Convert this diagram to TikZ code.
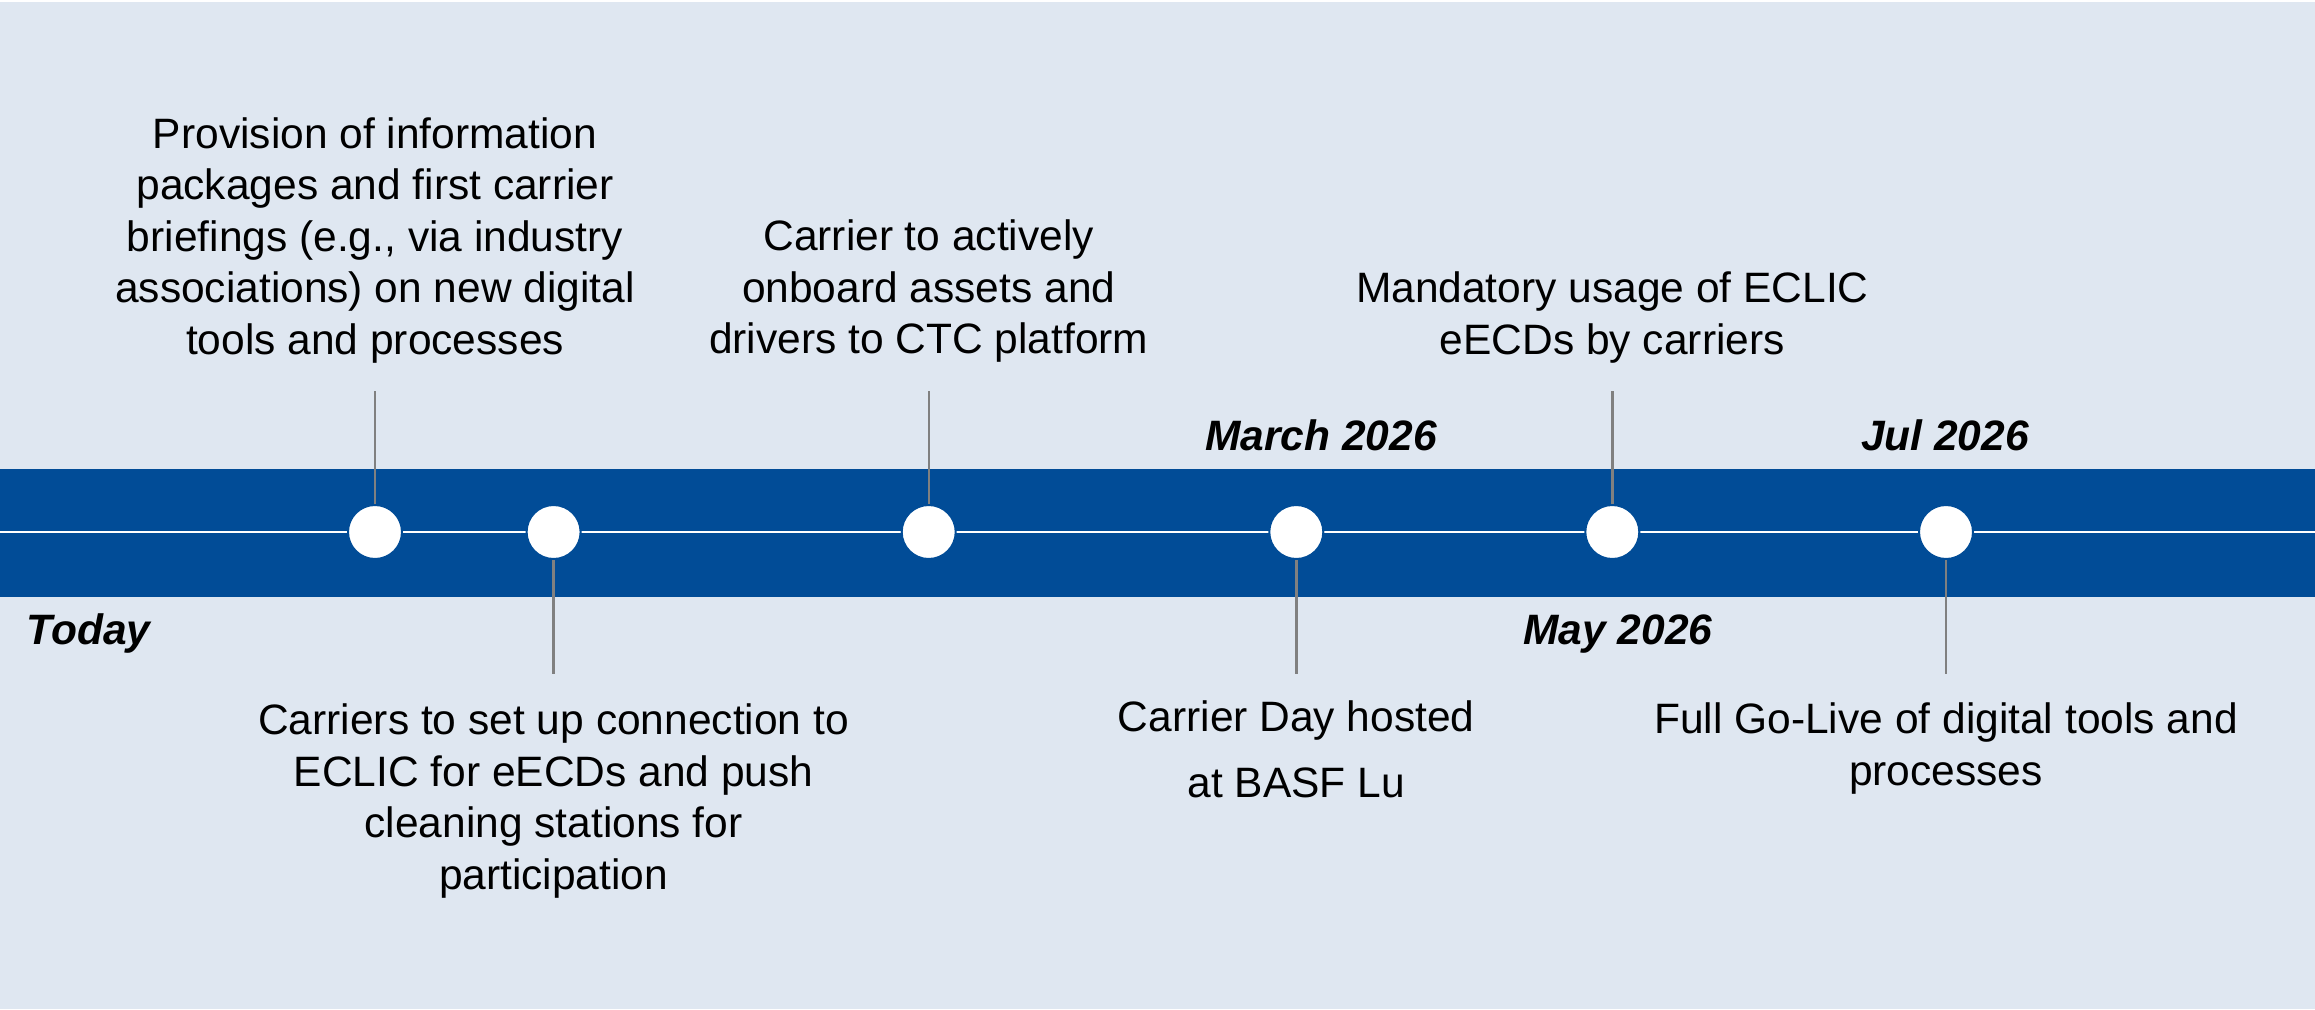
\documentclass[tikz,border=0pt]{standalone}
\usepackage{fontspec}
\setmainfont{Liberation Sans}
\definecolor{bgc}{RGB}{223,231,241}
\definecolor{band}{RGB}{1,76,151}
\definecolor{conn}{RGB}{128,128,128}
\begin{document}
\begin{tikzpicture}[x=1pt,y=-1pt,
  dot/.style={circle,fill=white,draw=band,line width=2pt,minimum size=54pt,inner sep=0pt},
  desc/.style={align=center,inner sep=0pt,font=\fontsize{42.5}{51.5}\selectfont},
  datel/.style={inner sep=0pt,font=\fontsize{42.5}{50}\selectfont\bfseries\itshape},
  conline/.style={draw=conn,line width=2.4pt}]
\useasboundingbox (0,0) rectangle (2315,1009);
\fill[white] (0,0) rectangle (2315,1009);
\fill[bgc] (0,2) rectangle (2315,1009);
\fill[band] (0,469) rectangle (2315,597);
\coordinate (L) at (0,532);
\coordinate (R) at (2315,532);
\draw[white,line width=2.2pt] (L) -- (R);
% connectors ends
\coordinate (t1) at (375,391);
\coordinate (t2) at (553.6,674);
\coordinate (t3) at (928.7,391);
\coordinate (t4) at (1296.3,674);
\coordinate (t5) at (1612.3,391);
\coordinate (t6) at (1946,674);
\node[dot] (c1) at (375,532) {};
\node[dot] (c2) at (553.6,532) {};
\node[dot] (c3) at (928.7,532) {};
\node[dot] (c4) at (1296.3,532) {};
\node[dot] (c5) at (1612.3,532) {};
\node[dot] (c6) at (1946,532) {};
\draw[conline] (c1.north) -- (t1);
\draw[conline] (c2.south) -- (t2);
\draw[conline] (c3.north) -- (t3);
\draw[conline] (c4.south) -- (t4);
\draw[conline] (c5.north) -- (t5);
\draw[conline] (c6.south) -- (t6);
% descriptions
\node[desc] (d1) at (375,240.5) {Provision of information\\packages and first carrier\\briefings (e.g., via industry\\associations) on new digital\\tools and processes};
\node[desc] (d3) at (928.7,291.5) {Carrier to actively\\onboard assets and\\drivers to CTC platform};
\node[desc] (d5) at (1612.3,317.5) {Mandatory usage of ECLIC\\eECDs by carriers};
\node[desc] (d2) at (553.6,801) {Carriers to set up connection to\\ECLIC for eECDs and push\\cleaning stations for\\participation};
\node[desc,font=\fontsize{42.5}{66}\selectfont] (d4) at (1296.3,749) {Carrier Day hosted\\at BASF Lu};
\node[desc] (d6) at (1946,748.5) {Full Go-Live of digital tools and\\processes};
% dates
\node[datel,anchor=west] (today) at (26.6,634) {Today};
\node[datel] (mar) at (1321,435) {March 2026};
\node[datel] (may) at (1618,634) {May 2026};
\node[datel] (jul) at (1945,435) {Jul 2026};
\end{tikzpicture}
\end{document}
